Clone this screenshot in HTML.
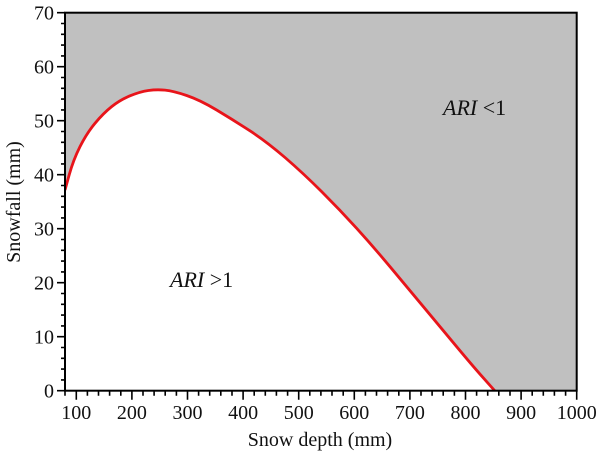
<!DOCTYPE html>
<html><head><style>html,body{margin:0;padding:0;background:#fff;}svg{display:block;}</style></head><body>
<svg width="600" height="455" viewBox="0 0 600 455" xmlns="http://www.w3.org/2000/svg" font-family="Liberation Serif, serif" fill="#111">
<defs><clipPath id="c"><rect x="65" y="12.7" width="511.7" height="378"/></clipPath></defs>
<rect x="65" y="12.7" width="511.7" height="378" fill="#c0c0c0"/>
<g clip-path="url(#c)">
<path d="M65,190 L69.15,175 Q73.3,160 80,146.65 Q86.7,133.3 95,123.3 Q103.3,113.3 111.65,106.65 Q120,100 130,95.85 Q140,91.7 148.35,90.5 Q156.7,89.3 165,90.15 Q173.3,91 186.65,95.5 Q200,100 216.65,110 Q233.3,120 250,130.85 Q266.7,141.7 285,157.5 Q303.3,173.3 321.65,191.65 Q340,210 356.65,228.35 Q373.3,246.7 390,266.7 Q406.7,286.7 423.35,306.7 Q440,326.7 456.65,346.7 Q473.3,366.7 484.15,378.85 L495,391 L65,391 Z" fill="#fff"/>
<path d="M65,190 L69.15,175 Q73.3,160 80,146.65 Q86.7,133.3 95,123.3 Q103.3,113.3 111.65,106.65 Q120,100 130,95.85 Q140,91.7 148.35,90.5 Q156.7,89.3 165,90.15 Q173.3,91 186.65,95.5 Q200,100 216.65,110 Q233.3,120 250,130.85 Q266.7,141.7 285,157.5 Q303.3,173.3 321.65,191.65 Q340,210 356.65,228.35 Q373.3,246.7 390,266.7 Q406.7,286.7 423.35,306.7 Q440,326.7 456.65,346.7 Q473.3,366.7 484.15,378.85 L495,391" fill="none" stroke="#e8141a" stroke-width="2.8" stroke-linejoin="round"/>
</g>
<rect x="65" y="12.7" width="511.7" height="378" fill="none" stroke="#000" stroke-width="2"/>
<g stroke="#000" stroke-width="1.6">
<path d="M65,390.7h-8 M65,336.7h-8 M65,282.7h-8 M65,228.7h-8 M65,174.7h-8 M65,120.7h-8 M65,66.7h-8 M65,12.7h-8"/>
<path d="M65,379.9h-4 M65,369.1h-4 M65,358.3h-4 M65,347.5h-4 M65,325.9h-4 M65,315.1h-4 M65,304.3h-4 M65,293.5h-4 M65,271.9h-4 M65,261.1h-4 M65,250.3h-4 M65,239.5h-4 M65,217.9h-4 M65,207.1h-4 M65,196.3h-4 M65,185.5h-4 M65,163.9h-4 M65,153.1h-4 M65,142.3h-4 M65,131.5h-4 M65,109.9h-4 M65,99.1h-4 M65,88.3h-4 M65,77.5h-4 M65,55.9h-4 M65,45.1h-4 M65,34.3h-4 M65,23.5h-4"/>
<path d="M76.3,390.7v9 M131.9,390.7v9 M187.5,390.7v9 M243.1,390.7v9 M298.7,390.7v9 M354.3,390.7v9 M409.9,390.7v9 M465.5,390.7v9 M521.1,390.7v9 M576.7,390.7v9"/>
<path d="M65,390.7v5 M87.4,390.7v5 M98.5,390.7v5 M109.6,390.7v5 M120.8,390.7v5 M143,390.7v5 M154.1,390.7v5 M165.2,390.7v5 M176.4,390.7v5 M198.6,390.7v5 M209.7,390.7v5 M220.8,390.7v5 M232,390.7v5 M254.2,390.7v5 M265.3,390.7v5 M276.4,390.7v5 M287.6,390.7v5 M309.8,390.7v5 M320.9,390.7v5 M332,390.7v5 M343.2,390.7v5 M365.4,390.7v5 M376.5,390.7v5 M387.6,390.7v5 M398.8,390.7v5 M421,390.7v5 M432.1,390.7v5 M443.2,390.7v5 M454.4,390.7v5 M476.6,390.7v5 M487.7,390.7v5 M498.8,390.7v5 M510,390.7v5 M532.2,390.7v5 M543.3,390.7v5 M554.4,390.7v5 M565.6,390.7v5"/>
</g>
<g font-size="20" text-anchor="end">
<text x="54" y="397.5">0</text><text x="54" y="343.5">10</text><text x="54" y="289.5">20</text><text x="54" y="235.5">30</text><text x="54" y="181.5">40</text><text x="54" y="127.5">50</text><text x="54" y="73.5">60</text><text x="54" y="19.5">70</text>
</g>
<g font-size="20" text-anchor="middle">
<text x="76.3" y="419">100</text><text x="131.9" y="419">200</text><text x="187.5" y="419">300</text><text x="243.1" y="419">400</text><text x="298.7" y="419">500</text><text x="354.3" y="419">600</text><text x="409.9" y="419">700</text><text x="465.5" y="419">800</text><text x="521.1" y="419">900</text><text x="576.7" y="419">1000</text>
<text x="320" y="446">Snow depth (mm)</text>
<text transform="translate(20,202) rotate(-90)">Snowfall (mm)</text>
</g>
<g font-size="22">
<text x="170" y="287"><tspan font-style="italic">ARI</tspan> &gt;1</text>
<text x="443" y="115"><tspan font-style="italic">ARI</tspan> &lt;1</text>
</g>
</svg>
</body></html>
